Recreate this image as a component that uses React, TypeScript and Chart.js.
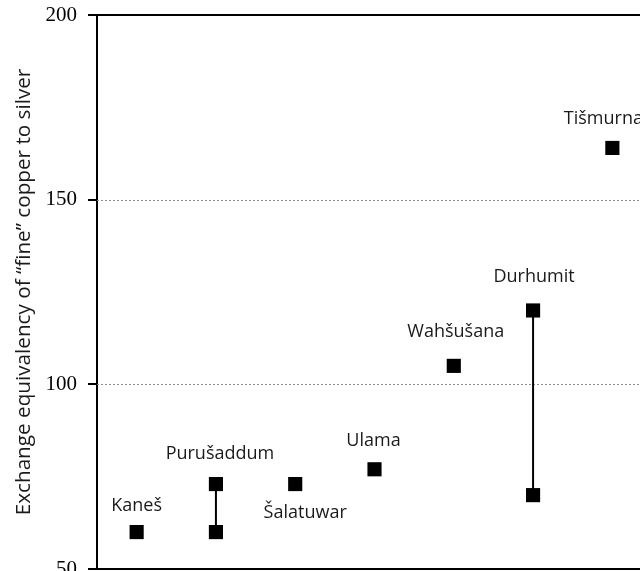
import { useEffect, useRef } from 'react';
import { Chart, registerables } from 'chart.js';

Chart.register(...registerables);

// ---- data ----
const sites = ['Kaneš', 'Purušaddum', 'Šalatuwar', 'Ulama', 'Wahšušana', 'Durhumit', 'Tišmurna'];
const lowValues = [60, 60, 73, 77, 105, 70, 164];
const highValues = [60, 73, 73, 77, 105, 120, 164];
const yTicks = [50, 100, 150, 200];
const dottedGridValues = [100, 150];
const yAxisTitle = 'Exchange equivalency of “fine” copper to silver';

// ---- label layout (pixel offsets from the marker; style, not data) ----
const labelPlacement = [
  { anchor: 'high', dx: 0, dy: -21 },
  { anchor: 'high', dx: 4, dy: -25 },
  { anchor: 'low', dx: 10, dy: 34 },
  { anchor: 'high', dx: -1, dy: -23 },
  { anchor: 'high', dx: 2, dy: -29 },
  { anchor: 'high', dx: 1, dy: -28 },
  { anchor: 'high', dx: -9, dy: -24 },
];

const LABEL_FONT = '18px "Open Sans"';
const CANVAS_W = 662;
const CANVAS_H = 619;
const CANVAS_TOP = -20;

export default function App() {
  const ref = useRef<HTMLCanvasElement | null>(null);

  useEffect(() => {
    if (!ref.current) return;

    const markerData: { x: number; y: number }[] = [];
    sites.forEach((_, i) => {
      markerData.push({ x: i + 1, y: lowValues[i] });
      if (highValues[i] !== lowValues[i]) markerData.push({ x: i + 1, y: highValues[i] });
    });

    const rangeDatasets = sites
      .map((_, i) => i)
      .filter((i) => highValues[i] !== lowValues[i])
      .map((i) => ({
        type: 'scatter' as const,
        label: sites[i] + ' range',
        data: [
          { x: i + 1, y: lowValues[i] },
          { x: i + 1, y: highValues[i] },
        ],
        showLine: true,
        borderColor: '#000',
        borderWidth: 2,
        pointRadius: 0,
      }));

    const overlay = {
      id: 'overlay',
      beforeDatasetsDraw(chart: any) {
        const { ctx, chartArea, scales } = chart;
        const y = scales.y;
        ctx.save();
        // dotted grid lines
        ctx.strokeStyle = '#8c8c8c';
        ctx.lineWidth = 1;
        ctx.setLineDash([2, 2]);
        dottedGridValues.forEach((v) => {
          const py = Math.round(y.getPixelForValue(v)) + 0.5;
          ctx.beginPath();
          ctx.moveTo(chartArea.left, py);
          ctx.lineTo(chartArea.right, py);
          ctx.stroke();
        });
        ctx.setLineDash([]);
        // top & bottom frame lines
        ctx.strokeStyle = '#000';
        ctx.lineWidth = 2;
        [yTicks[0], yTicks[yTicks.length - 1]].forEach((v) => {
          const py = Math.round(y.getPixelForValue(v));
          ctx.beginPath();
          ctx.moveTo(chartArea.left - 9, py);
          ctx.lineTo(chartArea.right + 10, py);
          ctx.stroke();
        });
        ctx.restore();
      },
      afterDatasetsDraw(chart: any) {
        const { ctx, scales } = chart;
        ctx.save();
        ctx.font = LABEL_FONT;
        ctx.fillStyle = '#1a1a1a';
        ctx.textAlign = 'center';
        ctx.textBaseline = 'alphabetic';
        sites.forEach((name, i) => {
          const p = labelPlacement[i];
          const v = p.anchor === 'low' ? lowValues[i] : highValues[i];
          const px = scales.x.getPixelForValue(i + 1) + p.dx;
          const py = scales.y.getPixelForValue(v) + p.dy;
          ctx.fillText(name, px, py);
        });
        ctx.restore();
      },
    };

    const chart = new Chart(ref.current, {
      type: 'scatter',
      data: {
        datasets: [
          {
            label: 'Exchange equivalency',
            data: markerData,
            pointStyle: 'rect',
            pointRadius: 10,
            pointHoverRadius: 10,
            backgroundColor: '#000',
            borderWidth: 0,
          },
          ...rangeDatasets,
        ],
      },
      options: {
        responsive: false,
        animation: false,
        events: [],
        layout: { padding: { top: 35, bottom: 30, left: 0, right: 0 } },
        plugins: {
          legend: { display: false },
          tooltip: { enabled: false },
        },
        scales: {
          x: {
            type: 'linear',
            min: 0.5,
            max: 7.5,
            display: false,
          },
          y: {
            type: 'linear',
            min: 50,
            max: 200,
            afterFit: (scale: any) => {
              scale.width = 97;
            },
            afterBuildTicks: (scale: any) => {
              scale.ticks = yTicks.map((v) => ({ value: v }));
            },
            ticks: {
              color: '#000',
              font: { family: '"Liberation Serif", "Times New Roman", serif', size: 21 },
              padding: 11,
            },
            grid: {
              drawOnChartArea: false,
              drawTicks: true,
              tickLength: 9,
              color: '#000',
              lineWidth: 2,
            },
            border: { display: true, color: '#000', width: 2 },
            title: {
              display: true,
              text: yAxisTitle,
              color: '#1a1a1a',
              font: { family: '"Open Sans"', size: 20.7 },
              padding: { top: 12, bottom: 0 },
            },
          },
        },
      },
      plugins: [overlay],
    });

    return () => chart.destroy();
  }, []);

  return (
    <div
      style={{
        position: 'absolute',
        left: 0,
        top: 0,
        width: 640,
        height: 571,
        overflow: 'hidden',
        background: '#fff',
      }}
    >
      <canvas
        ref={ref}
        width={CANVAS_W}
        height={CANVAS_H}
        style={{ position: 'absolute', left: 0, top: CANVAS_TOP, display: 'block' }}
      />
    </div>
  );
}
